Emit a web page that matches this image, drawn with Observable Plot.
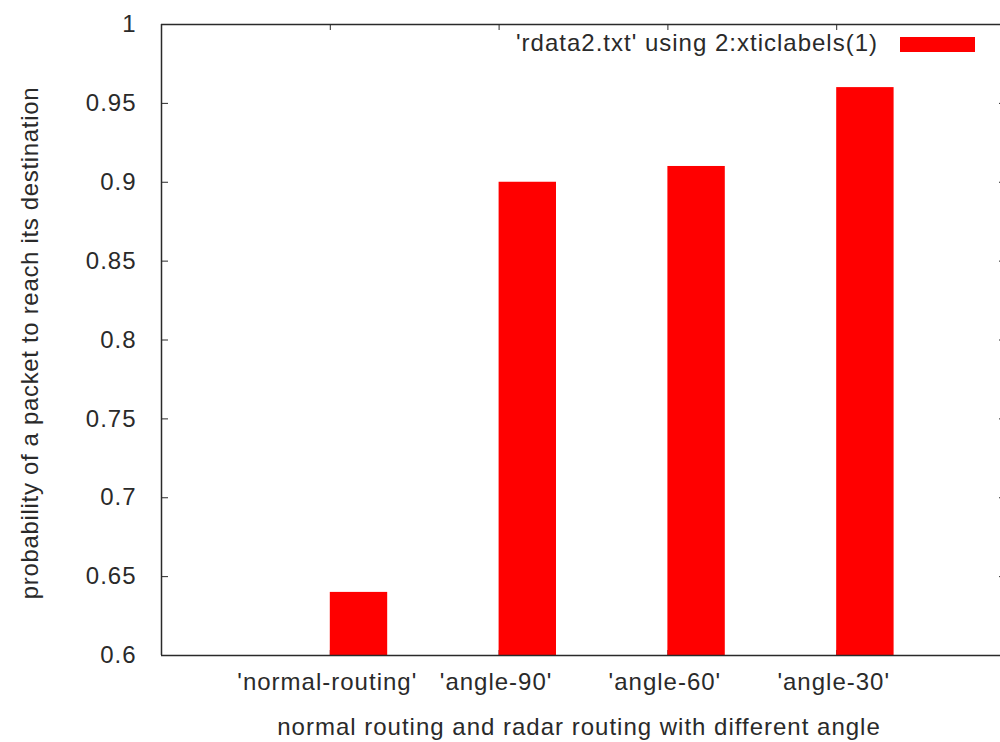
<!DOCTYPE html>
<html>
<head>
<meta charset="utf-8">
<script src="https://cdn.jsdelivr.net/npm/d3@7"></script>
<script src="https://cdn.jsdelivr.net/npm/@observablehq/plot@0.6"></script>
<style>
  html, body { margin: 0; padding: 0; background: #fff; overflow: hidden; }
  #wrap { position: relative; width: 1000px; height: 742px; }
  #legend-text { position: absolute; right: 122px; top: 29px; line-height: 30px; white-space: nowrap;
    font: 24px "Liberation Sans", Arial, sans-serif; letter-spacing: 1px; color: #2a2a2a; }
  #legend-swatch { position: absolute; left: 900px; top: 37px; width: 75px; height: 15px; background: #ff0000; }
  .ylab { letter-spacing: 0.67px; }
</style>
</head>
<body>
<div id="wrap"></div>
<script>
// ---- data ----
const categories = ["'normal-routing'", "'angle-90'", "'angle-60'", "'angle-30'"];
const values = [0.64, 0.90, 0.91, 0.96];
const xTicks = [0, 1, 2, 3];
const yTicks = [0.6, 0.65, 0.7, 0.75, 0.8, 0.85, 0.9, 0.95, 1];
const yTickLabels = ["0.6", "0.65", "0.7", "0.75", "0.8", "0.85", "0.9", "0.95", "1"];
const seriesLabel = "'rdata2.txt' using 2:xticlabels(1)";
const xLabel = "normal routing and radar routing with different angle";
const yLabel = "probability of a packet to reach its destination";
const xDomain = [-1, 4];
const yDomain = [0.6, 1];

// ---- chart ----
const data = categories.map((c, i) => ({i: xTicks[i], c, v: values[i]}));
const BAR = 0.34;
const INK = "#2a2a2a";
const RED = "#ff0000";

const chart = Plot.plot({
  width: 1000,
  height: 742,
  marginLeft: 161,
  marginRight: 0,
  marginTop: 24,
  marginBottom: 87,
  style: {
    fontFamily: '"Liberation Sans", Arial, sans-serif',
    fontSize: "24px",
    letterSpacing: "1px",
    color: INK,
    background: "#fff"
  },
  x: {domain: xDomain, range: [161, 1005], label: null},
  y: {domain: yDomain, range: [655, 24], label: null},
  marks: [
    // bottom ticks (inward), mostly hidden behind bars
    Plot.axisX(xTicks, {anchor: "bottom", tickSize: 5, dy: -5, tickFormat: () => "", label: null, stroke: INK}),
    // bars
    Plot.rect(data, {x1: "i", x2: d => d.i + BAR, y1: () => yDomain[0], y2: "v", fill: RED}),
    // border
    Plot.ruleY(yDomain, {x1: () => xDomain[0], x2: () => xDomain[1], stroke: INK, strokeWidth: 1.5}),
    Plot.ruleX(xDomain, {y1: () => yDomain[0], y2: () => yDomain[1], stroke: INK, strokeWidth: 1.5}),
    // y ticks inward, left and right
    Plot.axisY(yTicks, {anchor: "left", tickSize: 7, dx: 7, tickFormat: () => "", label: null, stroke: INK}),
    Plot.axisY(yTicks, {anchor: "right", tickSize: 7, dx: -2, tickFormat: () => "", label: null, stroke: INK}),
    // y tick labels
    Plot.axisY(yTicks, {anchor: "left", tickSize: 0, tickPadding: 25, label: null, fill: INK,
      tickFormat: d => yTickLabels[yTicks.indexOf(d)]}),
    // top ticks inward
    Plot.axisX(xTicks, {anchor: "top", tickSize: 5, dy: 5, tickFormat: () => "", label: null, stroke: INK}),
    // x tick labels
    Plot.axisX(xTicks, {anchor: "bottom", tickSize: 0, tickPadding: 17, dx: -3, label: null, fill: INK,
      tickFormat: d => categories[d]}),
    // axis titles
    Plot.text([yLabel], {frameAnchor: "left", textAnchor: "middle", lineAnchor: "middle",
      rotate: -90, dx: -131, dy: 3, text: d => d, fill: INK, className: "ylab"}),
    Plot.text([xLabel], {frameAnchor: "bottom", textAnchor: "middle", lineAnchor: "middle",
      dy: 72, dx: -2, text: d => d, fill: INK})
  ]
});

const wrap = document.getElementById("wrap");
wrap.appendChild(chart);

// legend (inside plot, top-right)
const lt = document.createElement("div");
lt.id = "legend-text";
lt.textContent = seriesLabel;
wrap.appendChild(lt);
const ls = document.createElement("div");
ls.id = "legend-swatch";
wrap.appendChild(ls);
</script>
</body>
</html>
